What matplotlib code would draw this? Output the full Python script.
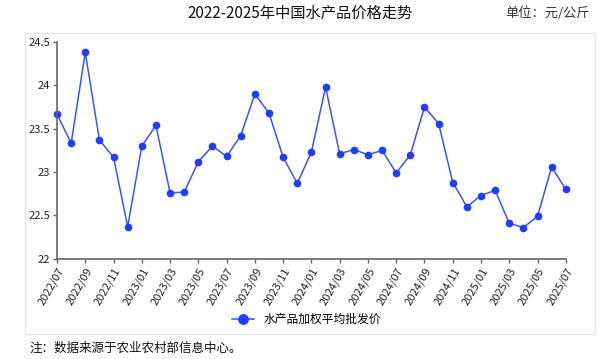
import matplotlib
matplotlib.use('Agg')
import matplotlib.pyplot as plt
from matplotlib.patches import Rectangle

plt.rcParams['font.family'] = ['Noto Sans CJK SC', 'DejaVu Sans']

# monthly data 2022/07 - 2025/07
months = ['2022/07', '2022/08', '2022/09', '2022/10', '2022/11', '2022/12',
          '2023/01', '2023/02', '2023/03', '2023/04', '2023/05', '2023/06',
          '2023/07', '2023/08', '2023/09', '2023/10', '2023/11', '2023/12',
          '2024/01', '2024/02', '2024/03', '2024/04', '2024/05', '2024/06',
          '2024/07', '2024/08', '2024/09', '2024/10', '2024/11', '2024/12',
          '2025/01', '2025/02', '2025/03', '2025/04', '2025/05', '2025/06',
          '2025/07']
price = [23.67, 23.33, 24.38, 23.37, 23.17, 22.37,
         23.30, 23.54, 22.76, 22.77, 23.12, 23.30,
         23.18, 23.42, 23.90, 23.68, 23.17, 22.87,
         23.23, 23.98, 23.21, 23.26, 23.20, 23.25,
         22.99, 23.20, 23.75, 23.56, 22.88, 22.60,
         22.73, 22.79, 22.41, 22.36, 22.49, 23.06,
         22.80]
series_name = '水产品加权平均批发价'

fig = plt.figure(figsize=(6.13, 3.59), dpi=100)
ax = fig.add_axes([0.093, 0.279, 0.830, 0.604])

x = list(range(len(months)))
ax.plot(x, price, color='#3a55f5', lw=1.1, marker='o', ms=4.5,
        mfc='#1f3dff', mec='#1f3dff', label=series_name, clip_on=False)

ax.set_xlim(0, len(months) - 1)
ax.set_ylim(22, 24.5)
ax.set_yticks([22, 22.5, 23, 23.5, 24, 24.5])
ax.set_yticklabels(['22', '22.5', '23', '23.5', '24', '24.5'])
ax.set_xticks(x[::2])
ax.set_xticklabels(months[::2], rotation=60, ha='right', rotation_mode='anchor')

for s in ['top', 'right']:
    ax.spines[s].set_visible(False)
for s in ['left', 'bottom']:
    ax.spines[s].set_color('#666666')
    ax.spines[s].set_linewidth(1.2)
ax.tick_params(axis='both', labelsize=8, colors='#666666', labelcolor='#222222',
               length=3, width=1, pad=2)

ax.legend(loc='center', bbox_to_anchor=(0.5, 0.110), bbox_transform=fig.transFigure,
          frameon=False, fontsize=8.5, handlelength=1.8, markerscale=1.5)

# outer frame
fig.patches.append(Rectangle((25 / 613, 1 - 334 / 359), 570 / 613, 301 / 359,
                             transform=fig.transFigure, fill=False,
                             edgecolor='#e6e6e6', lw=1))

fig.text(0.49, 0.962, '2022-2025年中国水产品价格走势', ha='center', va='center',
         fontsize=11, color='#111111')
fig.text(0.963, 0.962, '单位：元/公斤', ha='right', va='center',
         fontsize=9.5, color='#333333')
fig.text(0.048, 0.030, '注：数据来源于农业农村部信息中心。', ha='left', va='center',
         fontsize=9, color='#111111')

fig.savefig('out.png', dpi=100)
